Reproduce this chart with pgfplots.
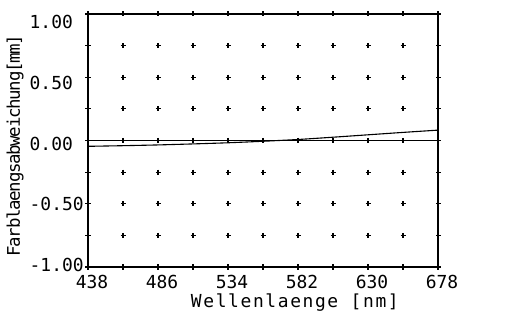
\documentclass[border=0pt]{standalone}
\usepackage{fontspec}
\setmainfont{DejaVu Sans Mono}
\newfontfamily\tickfont{DejaVu Sans Mono}
\newfontfamily\xlabfont[LetterSpace=9]{DejaVu Sans Mono}
\newfontfamily\ylabfont[LetterSpace=-7.5]{DejaVu Sans Mono}
\usepackage{pgfplots}
\pgfplotsset{compat=1.18}
\begin{document}
\begin{tikzpicture}
\useasboundingbox (0,0) rectangle (505bp,318bp);
\begin{axis}[
  at={(88bp,51bp)}, anchor=south west,
  scale only axis, width=350bp, height=253bp,
  xmin=438, xmax=678, ymin=-1, ymax=1,
  xtick={438,462,...,678},
  xticklabels={438,,486,,534,,582,,630,,678},
  ytick={-1,-0.75,...,1},
  yticklabels={-1.00,,-0.50,,0.00,,0.50,,1.00},
  tick align=center, major tick length=5bp,
  tick style={black, line width=1.1bp},
  axis line style={line width=1.3bp},
  xticklabel style={font=\tickfont\fontsize{18}{18}\selectfont, anchor=north, inner sep=0pt, xshift=4bp, yshift=-5bp},
  yticklabel style={font=\tickfont\fontsize{18}{18}\selectfont, anchor=west, inner sep=0pt, xshift=-56bp, yshift={2bp-1.29bp*\ticknum}},
  xlabel={Wellenlaenge [nm]},
  ylabel={Farblaengsabweichung[mm]},
  xlabel style={font=\xlabfont\fontsize{18}{18}\selectfont, at={(axis description cs:0.591,0)}, anchor=base, inner sep=0pt, yshift=-40bp},
  ylabel style={font=\ylabfont\fontsize{17.5}{17.5}\selectfont, at={(axis description cs:-0.1943,0.48)}, anchor=base, inner sep=0pt},
]
\addplot[only marks, mark=+, mark size=2.5bp, mark options={line width=1.2bp}] coordinates {
(462,-0.75)(486,-0.75)(510,-0.75)(534,-0.75)(558,-0.75)(582,-0.75)(606,-0.75)(630,-0.75)(654,-0.75)
(462,-0.5)(486,-0.5)(510,-0.5)(534,-0.5)(558,-0.5)(582,-0.5)(606,-0.5)(630,-0.5)(654,-0.5)
(462,-0.25)(486,-0.25)(510,-0.25)(534,-0.25)(558,-0.25)(582,-0.25)(606,-0.25)(630,-0.25)(654,-0.25)
(462,0)(486,0)(510,0)(534,0)(558,0)(582,0)(606,0)(630,0)(654,0)
(462,0.25)(486,0.25)(510,0.25)(534,0.25)(558,0.25)(582,0.25)(606,0.25)(630,0.25)(654,0.25)
(462,0.5)(486,0.5)(510,0.5)(534,0.5)(558,0.5)(582,0.5)(606,0.5)(630,0.5)(654,0.5)
(462,0.75)(486,0.75)(510,0.75)(534,0.75)(558,0.75)(582,0.75)(606,0.75)(630,0.75)(654,0.75)
};
\addplot[black, line width=1.5bp] coordinates {(438,0) (678,0)};
\addplot[black, line width=1.1bp, smooth] coordinates {
(438,-0.046) (462,-0.041) (486,-0.035) (510,-0.027) (534,-0.018) (558,-0.006) (582,0.008) (606,0.026) (630,0.045) (654,0.064) (678,0.082)
};
\end{axis}
\end{tikzpicture}
\end{document}
